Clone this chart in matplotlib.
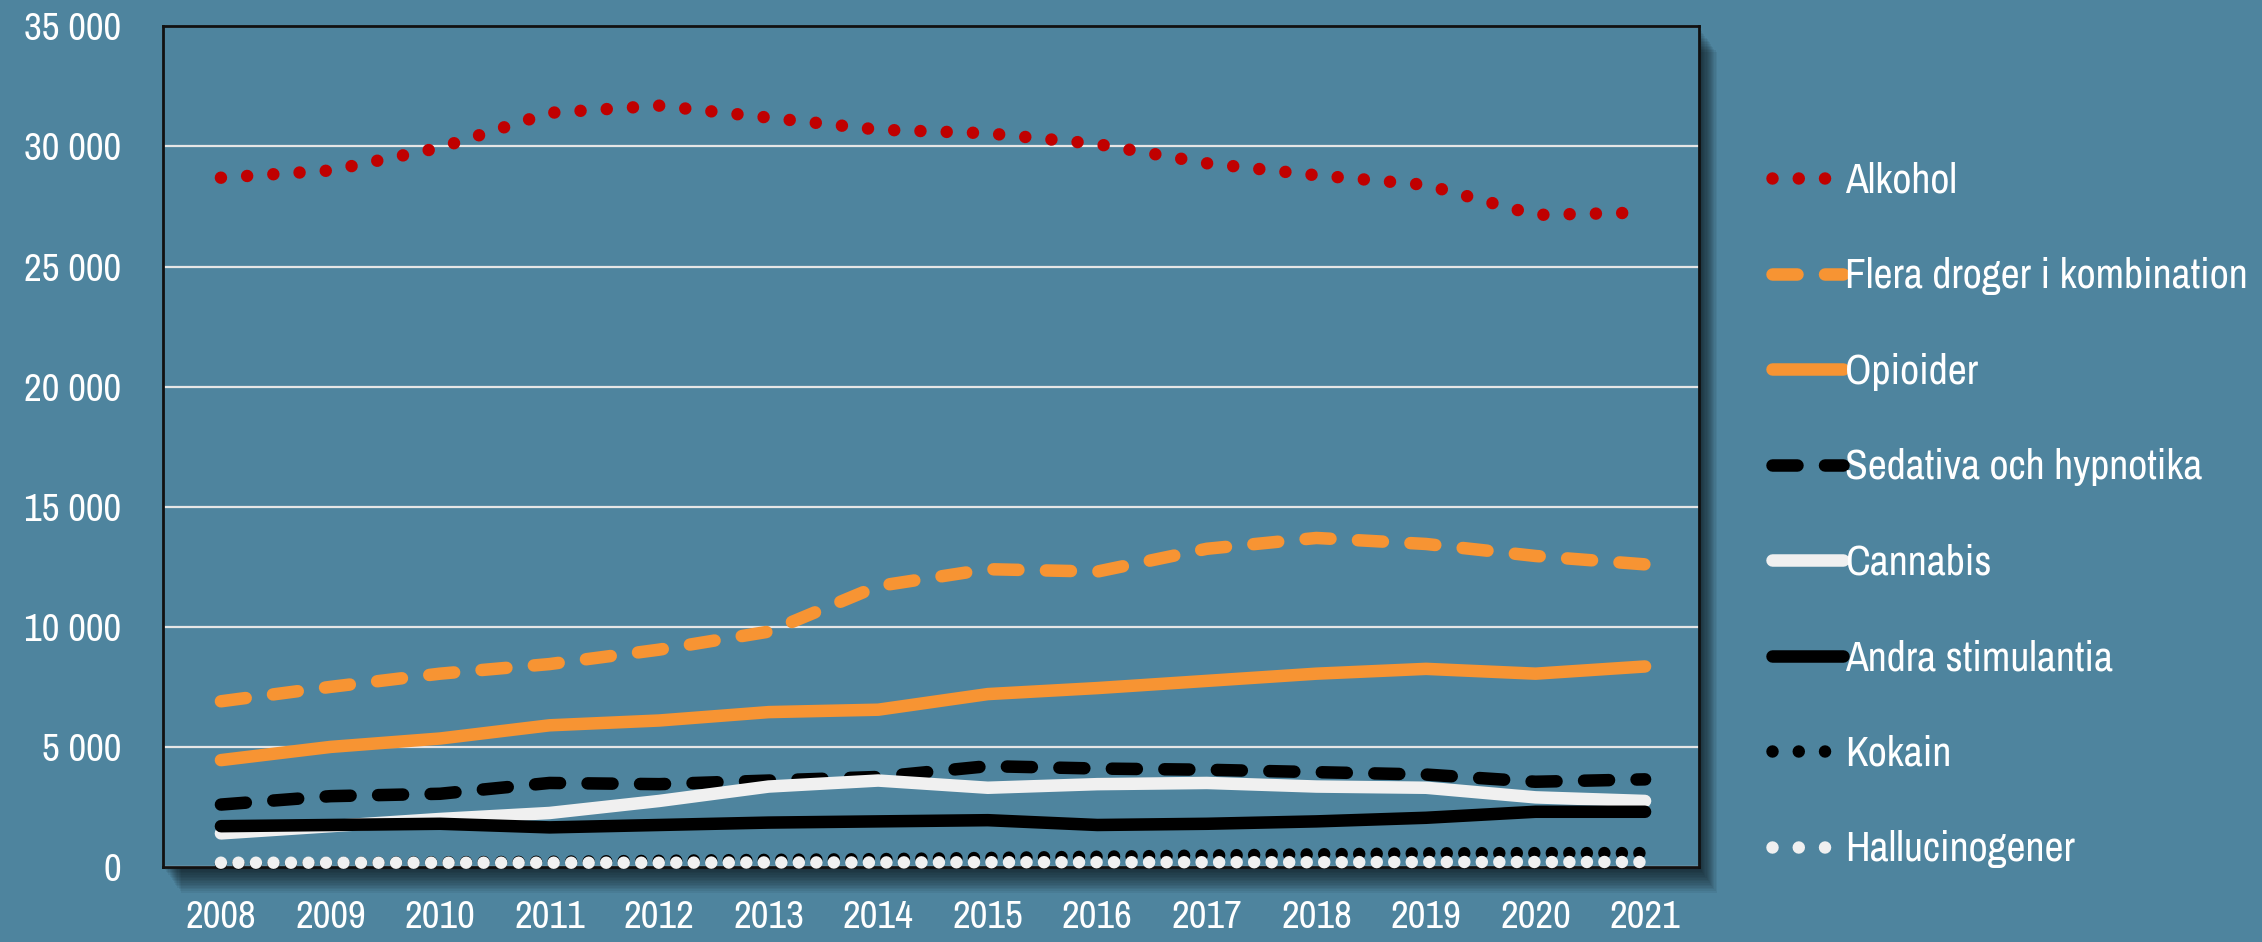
import matplotlib
matplotlib.use("Agg")
import matplotlib.pyplot as plt
from matplotlib.patches import Rectangle
from matplotlib.lines import Line2D
from matplotlib import font_manager
from matplotlib.font_manager import FontProperties

years = [2008, 2009, 2010, 2011, 2012, 2013, 2014, 2015, 2016, 2017, 2018, 2019, 2020, 2021]
alkohol = [28700, 29000, 29950, 31400, 31700, 31200, 30700, 30550, 30100, 29300, 28800, 28400, 27150, 27250]
flera = [6900, 7500, 8050, 8450, 9050, 9800, 11700, 12400, 12300, 13250, 13700, 13450, 12950, 12600]
opioider = [4450, 5000, 5350, 5900, 6100, 6450, 6550, 7200, 7450, 7750, 8050, 8250, 8050, 8350]
sedativa = [2600, 2950, 3050, 3500, 3450, 3600, 3750, 4200, 4100, 4050, 3950, 3850, 3550, 3650]
cannabis = [1400, 1700, 2000, 2250, 2750, 3350, 3600, 3300, 3450, 3500, 3350, 3300, 2900, 2750]
stimulantia = [1700, 1750, 1800, 1650, 1750, 1850, 1900, 1950, 1750, 1800, 1900, 2050, 2300, 2300]
kokain = [150, 170, 200, 220, 260, 300, 330, 380, 430, 480, 530, 570, 580, 580]
halluc = [180, 180, 180, 180, 180, 190, 190, 200, 200, 200, 200, 210, 210, 210]
yticks = [0, 5000, 10000, 15000, 20000, 25000, 30000, 35000]
ytick_labels = ["0", "5 000", "10 000", "15 000", "20 000", "25 000", "30 000", "35 000"]

# pick a condensed font if one is installed
fontfile = None
cands = []
for f in font_manager.fontManager.ttflist:
    n = f.name.lower()
    st = str(f.stretch).lower()
    cond = ("condensed" in n or "narrow" in n or "condensed" in st
            or "narrow" in st or st in ("100", "200", "300", "400"))
    if cond and f.style == "normal" and str(f.weight) in ("normal", "400", "regular", "book", "light", "300"):
        score = 0
        if "extra" in st or "ultra" in st:
            score -= 1
        if "semi" in st:
            score += 1
        if "dejavu" in n or "dejavu" in f.fname.lower():
            score += 2
        cands.append((score, f.fname))
cands.sort()
if cands:
    fontfile = cands[0][1]

if fontfile:
    fp_tick = FontProperties(fname=fontfile, size=28)
    fp_leg = FontProperties(fname=fontfile, size=30)
else:
    fp_tick = FontProperties(family="Roboto", size=22)
    fp_leg = FontProperties(family="Roboto", size=23)

BG = "#4e849e"
RED = "#c00000"
ORANGE = "#f79433"
WHITE = "#f0f0f0"
BLACK = "#000000"

fig = plt.figure(figsize=(22.62, 9.42), dpi=100, facecolor=BG)
ax_rect = [0.072, 0.0796, 0.679, 0.8924]

# drop shadow
for i in range(16):
    off = (i + 1) * 1.6
    fig.patches.append(Rectangle((ax_rect[0] + off / 2262 * 0.7, ax_rect[1] - off / 942),
                                 ax_rect[2], ax_rect[3],
                                 transform=fig.transFigure, facecolor="black",
                                 alpha=0.055, edgecolor="none", zorder=0))

ax = fig.add_axes(ax_rect, facecolor=BG)
ax.set_zorder(2)

LW = 9
DOT = (0, (0.001, 2.1))
DOT_S = (0, (0.001, 1.4))
DASH = (0, (2.0, 2.2))
ax.plot(years, alkohol, color=RED, lw=LW, linestyle=DOT, dash_capstyle="round", zorder=5)
ax.plot(years, flera, color=ORANGE, lw=LW, linestyle=DASH, dash_capstyle="round", zorder=5)
ax.plot(years, opioider, color=ORANGE, lw=LW, solid_capstyle="round", zorder=5)
ax.plot(years, sedativa, color=BLACK, lw=LW, linestyle=DASH, dash_capstyle="round", zorder=5)
ax.plot(years, cannabis, color=WHITE, lw=LW, solid_capstyle="round", zorder=5)
ax.plot(years, stimulantia, color=BLACK, lw=LW, solid_capstyle="round", zorder=6)
ax.plot(years, kokain, color=BLACK, lw=LW, linestyle=DOT_S, dash_capstyle="round", zorder=5, clip_on=False)
ax.plot(years, halluc, color=WHITE, lw=LW, linestyle=DOT_S, dash_capstyle="round", zorder=6, clip_on=False)

ax.set_xlim(2007.47, 2021.49)
ax.set_ylim(0, 35000)
ax.set_xticks(years)
ax.set_xticklabels([str(y) for y in years], fontproperties=fp_tick)
ax.set_yticks(yticks)
ax.set_yticklabels(ytick_labels, fontproperties=fp_tick)
ax.tick_params(axis="both", length=0, colors="white")
ax.tick_params(axis="y", pad=30)
ax.tick_params(axis="x", pad=24)
ax.yaxis.grid(True, color="#e6e6e6", lw=1.6, zorder=1)
ax.set_axisbelow(True)
for s in ax.spines.values():
    s.set_color("#111111")
    s.set_linewidth(2)

legend_labels = ["Alkohol", "Flera droger i kombination", "Opioider", "Sedativa och hypnotika",
                 "Cannabis", "Andra stimulantia", "Kokain", "Hallucinogener"]
legend_styles = [(RED, DOT), (ORANGE, DASH), (ORANGE, "-"), (BLACK, DASH),
                 (WHITE, "-"), (BLACK, "-"), (BLACK, DOT), (WHITE, DOT)]
handles = [Line2D([], [], color=c, lw=LW, linestyle=ls, dash_capstyle="round", solid_capstyle="round")
           for c, ls in legend_styles]

leg = fig.legend(handles, legend_labels, loc="upper left", bbox_to_anchor=(0.767, 0.868), frameon=False,
                 prop=fp_leg, labelcolor="white", handlelength=1.7,
                 handletextpad=0.05, labelspacing=1.38)

fig.savefig("out.png", dpi=100, facecolor=BG)
